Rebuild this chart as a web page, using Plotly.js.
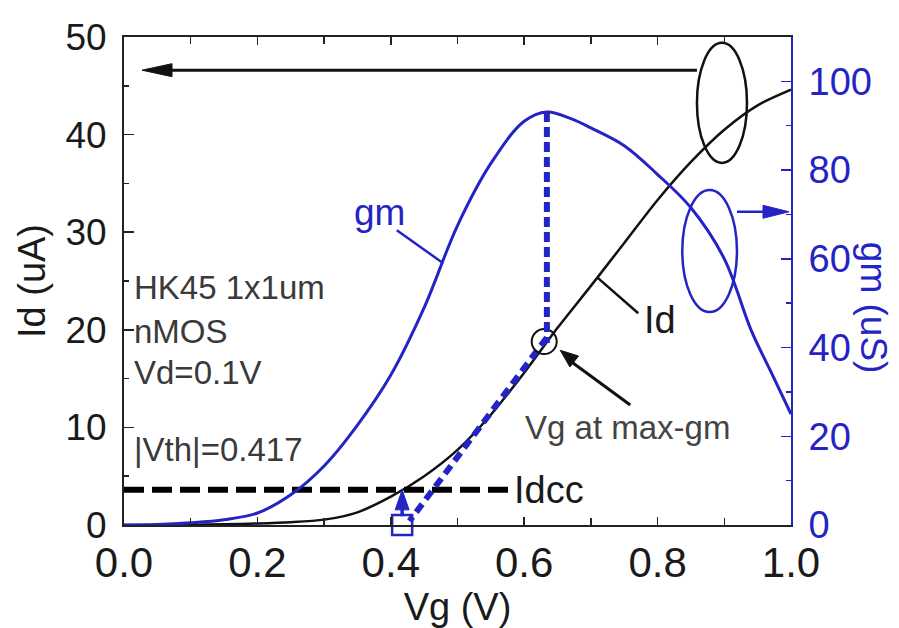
<!DOCTYPE html>
<html>
<head>
<meta charset="utf-8">
<script src="https://cdn.plot.ly/plotly-3.0.1.min.js"></script>
<style>html,body{margin:0;padding:0;background:#fff;}#chart{width:899px;height:628px;}</style>
</head>
<body>
<div id="chart"></div>
<script>
// ---- data ----
const vgId = [0,0.05,0.1,0.15,0.2,0.25,0.3,0.35,0.4,0.45,0.5,0.55,0.6,0.65,0.7,0.75,0.8,0.85,0.9,0.95,1.0];
const idVals = [0,0.01,0.03,0.08,0.15,0.28,0.55,1.3,2.9,5.0,7.7,11.3,15.6,20.2,24.5,28.9,33.3,37.2,40.5,43.0,44.6];
const vgGm = [0,0.05,0.1,0.15,0.2,0.25,0.3,0.35,0.4,0.45,0.5,0.55,0.6,0.634,0.67,0.7,0.75,0.8,0.85,0.9,0.94,0.97,1.0];
const gmVals = [0,0.1,0.5,1.2,2.7,6.8,13.3,22.5,33.8,49,67.5,81.5,91,93.1,91.6,89.5,85.5,79,71.5,60,44,34.5,25];
const maxGmX = [0.634,0.634];       // vertical dashed line at max gm (gm axis)
const maxGmY = [93.1,41];
const tangentX = [0.634,0.428];     // linear extrapolation (Id axis)
const tangentY = [19.2,0.4];
const idccX = [0,0.576];
const idccY = [3.6,3.6];
const maxGmPointX = [0.63];
const maxGmPointY = [18.8];
const vthX = [0.417];
const vthY = [0];
const xTicks = [0,0.2,0.4,0.6,0.8,1.0];
const xTickText = ['0.0','0.2','0.4','0.6','0.8','1.0'];
const idTicks = [0,10,20,30,40,50];
const gmTicks = [0,20,40,60,80,100];

const BLUE = '#2424c4';
const FONT = 'Liberation Sans, Arial, sans-serif';

const traces = [
  {x: vgGm, y: gmVals, yaxis: 'y2', mode: 'lines', line: {color: BLUE, width: 3, shape: 'spline', smoothing: 1}, name: 'gm'},
  {x: vgId, y: idVals, mode: 'lines', line: {color: '#111', width: 2.5, shape: 'spline', smoothing: 0.8}, name: 'Id'},
  {x: idccX, y: idccY, mode: 'lines', line: {color: '#000', width: 6, dash: '20px,8px'}, name: 'Idcc'},
  {x: tangentX, y: tangentY, mode: 'lines', line: {color: BLUE, width: 6, dash: '10px,6px'}, name: 'tangent'},
  {x: maxGmX, y: maxGmY, yaxis: 'y2', mode: 'lines', line: {color: BLUE, width: 6, dash: '10px,5px'}, name: 'maxgm'},
  {x: maxGmPointX, y: maxGmPointY, mode: 'markers', marker: {symbol: 'circle-open', size: 25, color: '#111', line: {width: 2, color: '#111'}}, name: 'pt'},
  {x: vthX, y: vthY, mode: 'markers', cliponaxis: false, marker: {symbol: 'square-open', size: 20, color: BLUE, line: {width: 2.5, color: BLUE}}, name: 'vth'}
];

function txt(x, y, t, size, color, xanchor, yref) {
  return {x: x, y: y, xref: 'x', yref: yref || 'y', text: t, showarrow: false,
          xanchor: xanchor || 'left', yanchor: 'middle',
          font: {family: FONT, size: size, color: color}};
}

const annotations = [
  txt(0.012, 24.3, 'HK45 1x1um', 33, '#3a3a3a'),
  txt(0.012, 19.8, 'nMOS', 33, '#3a3a3a'),
  txt(0.012, 15.6, 'Vd=0.1V', 33, '#3a3a3a'),
  txt(0.012, 7.7, '|Vth|=0.417', 33, '#3a3a3a'),
  txt(0.342, 32.0, 'gm', 37, BLUE),
  txt(0.777, 21.0, 'Id', 38, '#1a1a1a'),
  txt(0.582, 3.6, 'Idcc', 38, '#1a1a1a'),
  txt(0.755, 10.0, 'Vg at max-gm', 33, '#444', 'center'),
  {xref: 'paper', yref: 'paper', x: 1.123, y: 0.445, text: 'gm (uS)', textangle: 90, showarrow: false,
   xanchor: 'center', yanchor: 'middle', font: {family: FONT, size: 37, color: BLUE}}
];

const shapes = [
  // black ellipse + arrow to left axis
  {type: 'circle', xref: 'x', yref: 'y', x0: 0.859, x1: 0.934, y0: 37.1, y1: 49.4, line: {color: '#111', width: 2.5}},
  {type: 'line', xref: 'x', yref: 'y', x0: 0.07, x1: 0.859, y0: 46.6, y1: 46.6, line: {color: '#111', width: 3}},
  {type: 'path', xref: 'x', yref: 'y', xsizemode: 'pixel', ysizemode: 'pixel', xanchor: 0.027, yanchor: 46.6,
   path: 'M0,0 L30,6.5 L30,-6.5 Z', fillcolor: '#111', line: {color: '#111', width: 1}},
  // blue ellipse + arrow to right axis
  {type: 'circle', xref: 'x', yref: 'y2', x0: 0.837, x1: 0.919, y0: 48, y1: 75.5, line: {color: BLUE, width: 2.5}},
  {type: 'line', xref: 'x', yref: 'y2', x0: 0.919, x1: 0.97, y0: 70.6, y1: 70.6, line: {color: BLUE, width: 2.5}},
  {type: 'path', xref: 'x', yref: 'y2', xsizemode: 'pixel', ysizemode: 'pixel', xanchor: 0.997, yanchor: 70.6,
   path: 'M0,0 L-26,6.5 L-26,-6.5 Z', fillcolor: BLUE, line: {color: BLUE, width: 1}},
  // gm pointer
  {type: 'line', xref: 'x', yref: 'y', x0: 0.409, y0: 30.2, x1: 0.477, y1: 26.9, line: {color: BLUE, width: 2.5}},
  // Id pointer
  {type: 'line', xref: 'x', yref: 'y', x0: 0.709, y0: 25.4, x1: 0.771, y1: 21.7, line: {color: '#111', width: 2.5}},
  // arrow to max-gm point
  {type: 'line', xref: 'x', yref: 'y', x0: 0.665, y0: 17.0, x1: 0.759, y1: 12.3, line: {color: '#111', width: 3}},
  {type: 'path', xref: 'x', yref: 'y', xsizemode: 'pixel', ysizemode: 'pixel', xanchor: 0.654, yanchor: 17.9,
   path: 'M0,0 L18.3,-5.7 L9.7,-16.7 Z', fillcolor: '#111', line: {color: '#111', width: 1}},
  // blue up arrow at Vth
  {type: 'line', xref: 'x', yref: 'y', x0: 0.417, y0: 0.9, x1: 0.417, y1: 2.2, line: {color: BLUE, width: 3.5}},
  {type: 'path', xref: 'x', yref: 'y', xsizemode: 'pixel', ysizemode: 'pixel', xanchor: 0.417, yanchor: 3.6,
   path: 'M0,0 L-7,-20 L7,-20 Z', fillcolor: BLUE, line: {color: BLUE, width: 1}}
];

const layout = {
  width: 899, height: 628,
  margin: {l: 124, r: 108, t: 37, b: 103, pad: 0},
  paper_bgcolor: '#fff', plot_bgcolor: '#fff',
  showlegend: false,
  font: {family: FONT, color: '#1a1a1a'},
  xaxis: {
    range: [0, 1], tickvals: xTicks, ticktext: xTickText,
    showgrid: false, zeroline: false,
    showline: true, linecolor: '#222', linewidth: 2, mirror: 'ticks',
    ticks: 'inside', ticklen: 8, tickwidth: 1.5, tickcolor: '#222',
    minor: {dtick: 0.1, ticks: 'inside', ticklen: 7, tickwidth: 1.5, tickcolor: '#222'},
    tickfont: {family: FONT, size: 42, color: '#1a1a1a'},
    title: {text: 'Vg (V)', font: {family: FONT, size: 38, color: '#1a1a1a'}, standoff: 4}
  },
  yaxis: {
    range: [0, 50], tickvals: idTicks,
    showgrid: false, zeroline: false,
    showline: true, linecolor: '#222', linewidth: 2,
    ticks: 'inside', ticklen: 10, tickwidth: 1.5, tickcolor: '#222',
    minor: {dtick: 5, ticks: 'inside', ticklen: 5, tickwidth: 1.5, tickcolor: '#222'},
    tickfont: {family: FONT, size: 37, color: '#1a1a1a'},
    ticklabelstandoff: 8,
    title: {text: 'Id (uA)', font: {family: FONT, size: 38, color: '#1a1a1a'}, standoff: 8}
  },
  yaxis2: {
    range: [0, 110], tickvals: gmTicks, overlaying: 'y', side: 'right',
    showgrid: false, zeroline: false,
    showline: true, linecolor: BLUE, linewidth: 2,
    ticks: 'inside', ticklen: 10, tickwidth: 1.5, tickcolor: BLUE,
    minor: {dtick: 10, ticks: 'inside', ticklen: 5, tickwidth: 1.5, tickcolor: BLUE},
    tickfont: {family: FONT, size: 38, color: BLUE},
    ticklabelstandoff: 8
  },
  annotations: annotations,
  shapes: shapes
};

Plotly.newPlot('chart', traces, layout, {staticPlot: true, displayModeBar: false});
</script>
</body>
</html>
